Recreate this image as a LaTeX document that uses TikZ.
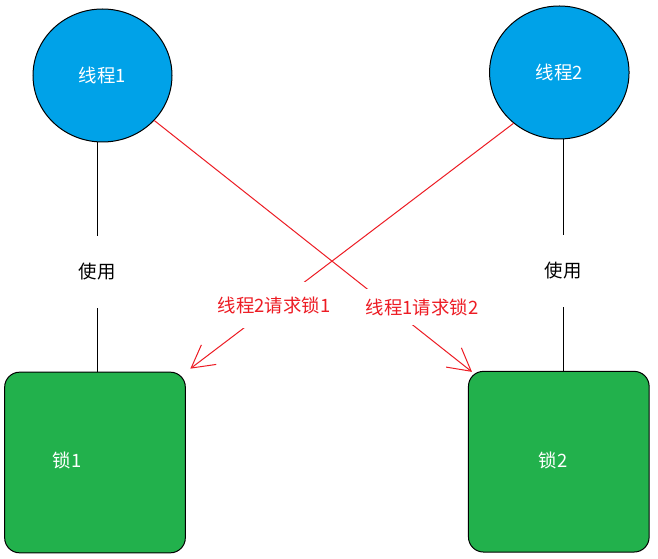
\documentclass[tikz,border=0pt]{standalone}
\usepackage{fontspec}
\setmainfont{Noto Sans CJK SC}
\usetikzlibrary{shapes.geometric,arrows.meta}
\definecolor{pblue}{HTML}{00A2E8}
\definecolor{pgreen}{HTML}{22B14C}
\definecolor{pred}{HTML}{ED1C24}
\begin{document}
\begin{tikzpicture}[x=0.75pt,y=-0.75pt,
  font=\fontsize{13.8}{16}\selectfont,
  thread/.style={ellipse,draw=black,line width=0.75pt,fill=pblue,text=white,inner sep=0pt,minimum height=99.75pt},
  lockbox/.style={rectangle,draw=black,line width=0.75pt,fill=pgreen,rounded corners=11.25pt,minimum width=135.5pt,minimum height=135.5pt},
  locktext/.style={text=white,inner sep=0pt},
  uselabel/.style={text=black,inner sep=0pt,minimum height=54pt,minimum width=30pt},
  reqlabel/.style={text=pred,fill=white,inner xsep=1pt,inner ysep=0pt},
  useline/.style={draw=black,line width=0.75pt},
  reqline/.style={draw=pred,line width=0.75pt,-{Straight Barb[angle=58:19pt]}}]
\useasboundingbox[fill=white] (0,0) rectangle (658,559);
% threads
\node[thread,minimum width=104.25pt] (t1) at (102.5,75.5) {线程1};
\node[thread,minimum width=104.6pt] (t2) at (559.3,72.5) {线程2};
% locks
\node[lockbox] (lk1) at (95,462.5) {};
\node[lockbox] (lk2) at (558.8,461.7) {};
\node[locktext] (lk1t) at (67,460) {锁1};
\node[locktext] (lk2t) at (553,460) {锁2};
% use labels
\node[uselabel] (u1) at (97.3,272) {使用};
\node[uselabel] (u2) at (563.3,271) {使用};
\draw[useline] (t1.south -| u1) -- (u1) -- (lk1.north -| u1);
\draw[useline] (t2.south -| u2) -- (u2) -- (lk2.north -| u2);
% request lines
\coordinate (tipA) at ([shift={(4,1)}]lk2.north west);
\coordinate (tipB) at ([shift={(4.5,-3)}]lk1.north east);
\draw[reqline] (t1.319) -- (tipA);
\draw[reqline] (t2.228) -- (tipB);
\node[reqlabel,minimum height=27pt] (rA) at (422,307) {线程1请求锁2};
\node[reqlabel,minimum height=34.5pt] (rB) at (274,305) {线程2请求锁1};
\end{tikzpicture}
\end{document}
